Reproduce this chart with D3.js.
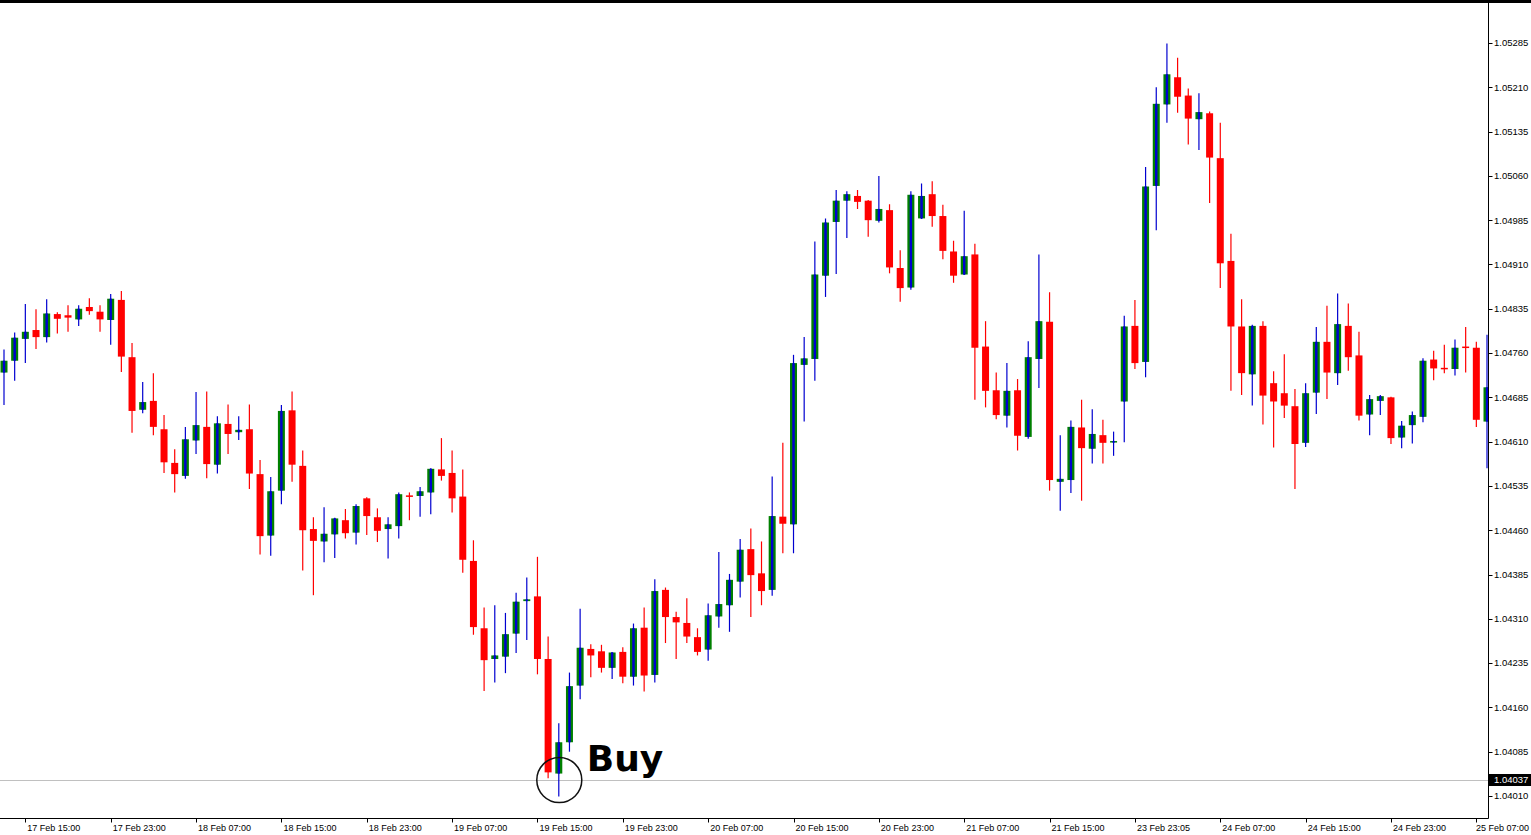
<!DOCTYPE html>
<html lang="en">
<head>
<meta charset="utf-8">
<title>EURUSD H1</title>
<script src="https://cdn.jsdelivr.net/npm/d3@7"></script>
<style>
  body { margin: 0; background: #fff; }
  svg { display: block; }
</style>
</head>
<body>
<script>
var width = 1531;
var height = 835;

// hourly bars
var open = [1.04727,1.04747,1.04784,1.04799,1.04787,1.04826,1.04824,1.04817,1.04838,1.04830,
1.04816,1.04850,1.04753,1.04664,1.04679,1.04631,1.04574,1.04552,1.04612,1.04635,
1.04571,1.04640,1.04626,1.04631,1.04555,1.04451,1.04527,1.04663,1.04569,1.04462,
1.04441,1.04453,1.04477,1.04456,1.04514,1.04482,1.04462,1.04467,1.04519,1.04518,
1.04524,1.04563,1.04557,1.04517,1.04408,1.04294,1.04242,1.04246,1.04285,1.04340,
1.04348,1.04242,1.04048,1.04101,1.04197,1.04259,1.04255,1.04227,1.04254,1.04212,
1.04295,1.04215,1.04359,1.04313,1.04303,1.04279,1.04258,1.04314,1.04333,1.04373,
1.04428,1.04387,1.04359,1.04483,1.04470,1.04740,1.04750,1.04891,1.04982,1.05018,
1.05026,1.05018,1.04984,1.05002,1.04904,1.04871,1.04988,1.05029,1.04992,1.04932,
1.04893,1.04927,1.04771,1.04697,1.04654,1.04697,1.04618,1.04750,1.04813,1.04542,
1.04545,1.04634,1.04598,1.04621,1.04610,1.04678,1.04806,1.04745,1.05043,1.05181,
1.05227,1.05196,1.05156,1.05166,1.05090,1.04916,1.04805,1.04724,1.04806,1.04709,
1.04692,1.04670,1.04608,1.04693,1.04779,1.04726,1.04806,1.04756,1.04656,1.04679,
1.04685,1.04617,1.04638,1.04652,1.04749,1.04735,1.04733,1.04771,1.04769,1.04644];

var high = [1.04766,1.04795,1.04843,1.04834,1.04851,1.04829,1.04841,1.04841,1.04853,1.04841,
1.04860,1.04865,1.04777,1.04711,1.04726,1.04655,1.04597,1.04635,1.04694,1.04695,
1.04653,1.04673,1.04653,1.04673,1.04579,1.04550,1.04672,1.04695,1.04595,1.04482,
1.04499,1.04481,1.04496,1.04504,1.04516,1.04497,1.04482,1.04524,1.04524,1.04533,
1.04565,1.04616,1.04595,1.04563,1.04443,1.04329,1.04333,1.04320,1.04354,1.04380,
1.04415,1.04280,1.04133,1.04219,1.04327,1.04267,1.04266,1.04254,1.04262,1.04302,
1.04329,1.04377,1.04363,1.04322,1.04345,1.04294,1.04336,1.04423,1.04386,1.04445,
1.04463,1.04441,1.04551,1.04608,1.04757,1.04787,1.04949,1.04988,1.05036,1.05034,
1.05036,1.05019,1.05060,1.05012,1.04934,1.05034,1.05047,1.05051,1.05011,1.04950,
1.05001,1.04945,1.04814,1.04727,1.04743,1.04716,1.04780,1.04927,1.04863,1.04621,
1.04646,1.04681,1.04665,1.04647,1.04627,1.04823,1.04850,1.05075,1.05210,1.05284,
1.05260,1.05208,1.05200,1.05169,1.05150,1.04962,1.04851,1.04808,1.04814,1.04729,
1.04758,1.04699,1.04709,1.04804,1.04840,1.04861,1.04844,1.04796,1.04689,1.04689,
1.04686,1.04645,1.04661,1.04751,1.04764,1.04774,1.04783,1.04804,1.04779,1.04791];

var low = [1.04672,1.04713,1.04743,1.04767,1.04778,1.04793,1.04796,1.04806,1.04825,1.04796,
1.04774,1.04728,1.04625,1.04658,1.04621,1.04557,1.04524,1.04547,1.04589,1.04548,
1.04556,1.04589,1.04613,1.04530,1.04419,1.04417,1.04504,1.04542,1.04392,1.04350,
1.04406,1.04413,1.04446,1.04436,1.04452,1.04440,1.04412,1.04446,1.04477,1.04483,
1.04487,1.04544,1.04490,1.04388,1.04283,1.04188,1.04202,1.04218,1.04252,1.04274,
1.04216,1.04040,1.04009,1.04085,1.04174,1.04211,1.04219,1.04208,1.04201,1.04197,
1.04187,1.04202,1.04269,1.04242,1.04269,1.04248,1.04239,1.04295,1.04288,1.04346,
1.04313,1.04333,1.04349,1.04421,1.04421,1.04644,1.04713,1.04855,1.04894,1.04955,
1.05004,1.04957,1.04981,1.04895,1.04847,1.04867,1.04987,1.04974,1.04919,1.04879,
1.04892,1.04681,1.04668,1.04648,1.04634,1.04595,1.04615,1.04701,1.04527,1.04493,
1.04523,1.04510,1.04573,1.04573,1.04586,1.04609,1.04733,1.04719,1.04968,1.05150,
1.05167,1.05113,1.05104,1.05014,1.04870,1.04696,1.04689,1.04671,1.04639,1.04600,
1.04650,1.04530,1.04601,1.04657,1.04682,1.04706,1.04730,1.04646,1.04621,1.04655,
1.04606,1.04599,1.04607,1.04643,1.04714,1.04726,1.04722,1.04727,1.04635,1.04565];

var close = [1.04747,1.04786,1.04796,1.04787,1.04827,1.04818,1.04820,1.04835,1.04831,1.04817,
1.04852,1.04754,1.04662,1.04677,1.04635,1.04575,1.04555,1.04614,1.04638,1.04572,
1.04641,1.04623,1.04630,1.04556,1.04450,1.04526,1.04662,1.04571,1.04460,1.04442,
1.04454,1.04480,1.04455,1.04501,1.04484,1.04459,1.04470,1.04521,1.04517,1.04526,
1.04564,1.04552,1.04514,1.04410,1.04296,1.04240,1.04248,1.04284,1.04339,1.04343,
1.04242,1.04050,1.04101,1.04196,1.04261,1.04248,1.04227,1.04253,1.04212,1.04294,
1.04214,1.04357,1.04313,1.04304,1.04280,1.04254,1.04316,1.04335,1.04376,1.04427,
1.04384,1.04357,1.04484,1.04471,1.04743,1.04751,1.04893,1.04981,1.05018,1.05029,
1.05016,1.04985,1.05004,1.04905,1.04870,1.05028,1.05026,1.04992,1.04933,1.04891,
1.04924,1.04769,1.04696,1.04655,1.04696,1.04620,1.04753,1.04814,1.04545,1.04547,
1.04635,1.04599,1.04623,1.04608,1.04611,1.04805,1.04743,1.05042,1.05182,1.05232,
1.05194,1.05157,1.05168,1.05091,1.04912,1.04805,1.04726,1.04806,1.04688,1.04678,
1.04671,1.04606,1.04692,1.04779,1.04727,1.04809,1.04753,1.04654,1.04682,1.04687,
1.04616,1.04637,1.04655,1.04747,1.04734,1.04733,1.04769,1.04769,1.04647,1.04702];

var priceTicks = [1.04010,1.04085,1.04160,1.04235,1.04310,1.04385,1.04460,1.04535,1.04610,
1.04685,1.04760,1.04835,1.04910,1.04985,1.05060,1.05135,1.05210,1.05285];

var timeLabels = ["17 Feb 15:00","17 Feb 23:00","18 Feb 07:00","18 Feb 15:00","18 Feb 23:00",
"19 Feb 07:00","19 Feb 15:00","19 Feb 23:00","20 Feb 07:00","20 Feb 15:00","20 Feb 23:00",
"21 Feb 07:00","21 Feb 15:00","23 Feb 23:05","24 Feb 07:00","24 Feb 15:00","24 Feb 23:00","25 Feb 07:00"];
var timeLabelBar = [2,10,18,26,34,42,50,58,66,74,82,90,98,106,114,122,130,138];

var currentPrice = 1.04037;
var buyBar = 52;

var axisX = 1488.5;
var axisY = 818.5;
var font = "'Liberation Sans', Arial, sans-serif";

var x = d3.scaleLinear().domain([0, open.length - 1]).range([4, 1487]);
var y = d3.scaleLinear().domain([1.04010, 1.05285]).range([796, 43]);

var bars = open.map(function(o, i) {
    return {i: i, o: o, h: high[i], l: low[i], c: close[i], up: close[i] >= o};
});

var svg = d3.select("body").append("svg")
    .attr("width", width)
    .attr("height", height);

svg.append("rect").attr("width", width).attr("height", height).attr("fill", "#fff");

svg.append("clipPath").attr("id", "plot")
    .append("rect").attr("x", 0).attr("y", 3).attr("width", axisX).attr("height", axisY - 3);

var plot = svg.append("g").attr("clip-path", "url(#plot)");

// bid line
plot.append("line")
    .attr("x1", 0).attr("x2", axisX)
    .attr("y1", Math.round(y(currentPrice)) + 0.5).attr("y2", Math.round(y(currentPrice)) + 0.5)
    .attr("stroke", "#c0c0c0").attr("stroke-width", 1);

var candle = plot.selectAll("g.bar")
    .data(bars)
    .enter()
    .append("g")
    .attr("class", "bar");

candle.append("rect")
    .attr("x", function(d) { return x(d.i) - 3.5; })
    .attr("width", 7)
    .attr("y", function(d) { return y(Math.max(d.o, d.c)); })
    .attr("height", function(d) { return Math.max(1.5, Math.abs(y(d.o) - y(d.c))); })
    .attr("fill", function(d) { return d.up ? "#008000" : "#ff0000"; });

candle.append("line")
    .attr("x1", function(d) { return x(d.i); })
    .attr("x2", function(d) { return x(d.i); })
    .attr("y1", function(d) { return y(d.h); })
    .attr("y2", function(d) { return y(d.l); })
    .attr("stroke", function(d) { return d.up ? "#0000d0" : "#ff0000"; })
    .attr("stroke-width", 1.2);

// blue stripe inside the bull bodies
candle.filter(function(d) { return d.up; })
    .append("rect")
    .attr("x", function(d) { return x(d.i) - 1.2; })
    .attr("width", 2.4)
    .attr("y", function(d) { return y(d.c); })
    .attr("height", function(d) { return Math.max(1.5, y(d.o) - y(d.c)); })
    .attr("fill", "#0000d0");

// buy annotation
svg.append("circle")
    .attr("cx", x(buyBar) + 0.5)
    .attr("cy", y(currentPrice))
    .attr("r", 22.5)
    .attr("fill", "none")
    .attr("stroke", "#111")
    .attr("stroke-width", 1.5);

svg.append("text")
    .attr("x", x(buyBar) + 28)
    .attr("y", 771)
    .attr("font-family", "'DejaVu Sans', Verdana, sans-serif")
    .attr("font-weight", "bold")
    .attr("font-size", 36)
    .attr("fill", "#000")
    .text("Buy");

// frame
svg.append("rect").attr("x", 0).attr("y", 0).attr("width", width).attr("height", 3).attr("fill", "#000");
svg.append("line").attr("x1", axisX).attr("x2", axisX).attr("y1", 0).attr("y2", axisY)
    .attr("stroke", "#000").attr("stroke-width", 1);
svg.append("line").attr("x1", 0).attr("x2", axisX).attr("y1", axisY).attr("y2", axisY)
    .attr("stroke", "#000").attr("stroke-width", 1);

// price scale
var pt = svg.selectAll("g.ptick").data(priceTicks).enter().append("g").attr("class", "ptick");
pt.append("line")
    .attr("x1", axisX).attr("x2", axisX + 4)
    .attr("y1", function(d) { return Math.round(y(d)) + 0.5; })
    .attr("y2", function(d) { return Math.round(y(d)) + 0.5; })
    .attr("stroke", "#000");
pt.append("text")
    .attr("x", axisX + 5.5)
    .attr("y", function(d) { return y(d); })
    .attr("dy", "0.35em")
    .attr("font-family", font).attr("font-size", 9.5).attr("fill", "#000")
    .text(function(d) { return d.toFixed(5); });

var cy = Math.round(y(currentPrice));
svg.append("rect")
    .attr("x", axisX + 0.5).attr("y", cy - 6).attr("width", width - axisX).attr("height", 12)
    .attr("fill", "#000");
svg.append("text")
    .attr("x", axisX + 5.5).attr("y", cy).attr("dy", "0.35em")
    .attr("font-family", font).attr("font-size", 9.5).attr("fill", "#fff")
    .text(currentPrice.toFixed(5));

// time scale
var tt = svg.selectAll("g.ttick").data(timeLabels).enter().append("g").attr("class", "ttick");
tt.append("line")
    .attr("x1", function(d, k) { return Math.round(x(timeLabelBar[k])) + 0.5; })
    .attr("x2", function(d, k) { return Math.round(x(timeLabelBar[k])) + 0.5; })
    .attr("y1", axisY).attr("y2", axisY + 4)
    .attr("stroke", "#000");
tt.append("text")
    .attr("x", function(d, k) { return x(timeLabelBar[k]) + 2; })
    .attr("y", 831)
    .attr("font-family", font).attr("font-size", 9).attr("fill", "#000")
    .text(function(d) { return d; })
    .each(function() {
        // keep the last label inside the picture, as the terminal does
        var w = this.getComputedTextLength();
        var tx = +this.getAttribute("x");
        if (tx + w > width - 2) this.setAttribute("x", width - 2 - w);
    });
</script>
</body>
</html>
